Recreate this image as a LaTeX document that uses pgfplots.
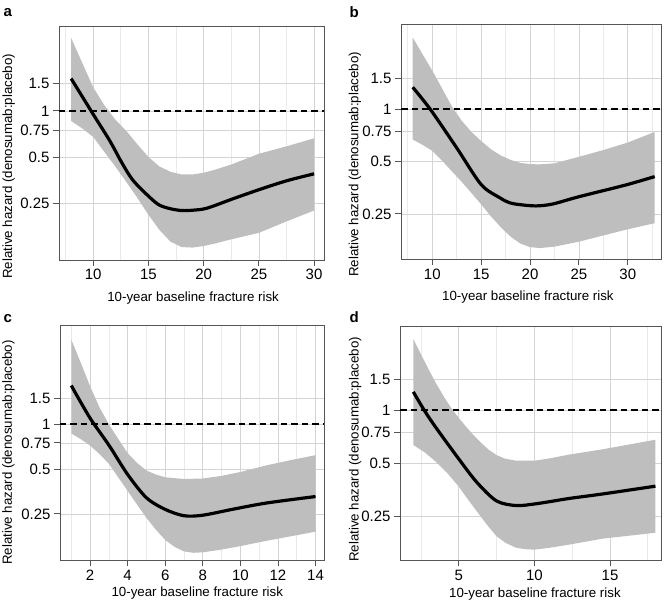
\documentclass[border=0pt]{standalone}
\usepackage{fontspec}
\setmainfont{Liberation Sans}
\usepackage{pgfplots}
\pgfplotsset{compat=1.18}

\definecolor{band}{RGB}{190,190,190}
\definecolor{gridmaj}{RGB}{212,212,212}
\definecolor{gridmin}{RGB}{234,234,234}
\definecolor{framecol}{RGB}{85,85,85}

\pgfplotsset{
  every axis/.append style={
    scale only axis, anchor=south west,
    xtick pos=left, ytick pos=left,
    tick align=outside, major tick length=6pt, minor tick length=0pt,
    axis line style={framecol, line width=0.9pt},
    tick style={framecol, line width=0.9pt},
    xmajorgrids, ymajorgrids, xminorgrids,
    major grid style={gridmaj, line width=0.7pt},
    minor grid style={gridmin, line width=0.7pt},
    /pgf/number format/assume math mode=true,
    tick label style={font=\fontsize{15}{17}\selectfont},
    label style={font=\fontsize{13.3}{16}\selectfont},
    xlabel={10-year baseline fracture risk},
    ylabel={Relative hazard (denosumab:placebo)},
  },
}

\begin{document}
\begin{tikzpicture}
\useasboundingbox (0,0) rectangle (672pt,602pt);

% ---- panel a
\begin{axis}[at={(59pt,342pt)}, width=265pt, height=234pt,
  ymode=log, ytick={0.25,0.5,0.75,1,1.5}, yticklabels={0.25,0.5,0.75,1,1.5}, minor ytick={},
  xmin=6.9, xmax=30.9, ymin=0.108, ymax=3.55,
  xtick={10,15,20,25,30}, minor xtick={7.5,12.5,17.5,22.5,27.5},
  xlabel style={at={(rel axis cs:0.506,0)}, anchor=center, yshift=-38pt},
  ylabel style={at={(rel axis cs:-0.19,0.40)}, anchor=center}]
  % band: upper limit left to right, then lower limit right to left
  \addplot[fill=band, draw=none] coordinates {(8,2.97) (9,2.05) (10,1.42) (11,1.09) (12,0.878) (13,0.741) (14,0.607) (15,0.502) (16,0.436) (17,0.403) (18,0.387) (19,0.387) (20,0.397) (21,0.415) (22.5,0.449) (25,0.527) (27.5,0.589) (30,0.664)
    (30,0.226) (27.5,0.192) (25,0.162) (22.5,0.147) (21,0.138) (20,0.133) (19,0.130) (18,0.131) (17,0.142) (16,0.169) (15,0.212) (14,0.273) (13,0.346) (12,0.436) (11,0.543) (10,0.677) (9,0.771) (8,0.86)} -- cycle;
  \addplot[black, line width=2.2pt, dash pattern=on 6.5pt off 4pt] coordinates {(6.9,1) (30.9,1)};
  \addplot[black, line width=3.2pt, smooth] coordinates {(8,1.62) (10,0.95) (11.5,0.64) (12.6,0.46) (13.6,0.355) (15.1,0.276) (16,0.245) (17,0.232) (18,0.226) (19,0.227) (20.3,0.234) (22.7,0.27) (25.1,0.31) (27.5,0.352) (30,0.391)};
\end{axis}

% ---- panel b
\begin{axis}[at={(401pt,342.7pt)}, width=260pt, height=235.3pt,
  ymode=log, ytick={0.25,0.5,0.75,1,1.5}, yticklabels={0.25,0.5,0.75,1,1.5}, minor ytick={},
  xmin=6.8, xmax=33.4, ymin=0.137, ymax=3.1,
  xtick={10,15,20,25,30}, minor xtick={7.5,12.5,17.5,22.5,27.5,32.5},
  xlabel style={at={(rel axis cs:0.488,0)}, anchor=center, yshift=-38pt},
  ylabel style={at={(rel axis cs:-0.177,0.403)}, anchor=center}]
  \addplot[fill=band, draw=none] coordinates {(8,2.59) (9,2.08) (10,1.67) (11,1.32) (12,1.04) (13,0.861) (14,0.741) (15,0.657) (16,0.589) (17,0.543) (18,0.512) (19,0.492) (20,0.484) (21,0.482) (22.5,0.489) (25,0.533) (27.5,0.583) (30,0.644) (32.75,0.741)
    (32.75,0.221) (30,0.204) (27.5,0.188) (25,0.173) (22.5,0.162) (21,0.159) (20,0.161) (19,0.169) (18,0.185) (17,0.210) (16,0.242) (15,0.284) (14,0.330) (13,0.383) (12,0.440) (11,0.507) (10,0.577) (9,0.625) (8,0.670)} -- cycle;
  \addplot[black, line width=2.2pt, dash pattern=on 6.5pt off 4pt] coordinates {(6.8,1) (33.4,1)};
  \addplot[black, line width=3.2pt, smooth] coordinates {(8,1.34) (9.8,1.0) (12.5,0.60) (15,0.369) (16.9,0.31) (17.9,0.29) (18.9,0.283) (20.6,0.278) (22.3,0.285) (25,0.314) (29.8,0.367) (32.75,0.41)};
\end{axis}

% ---- panel c
\begin{axis}[at={(60pt,41.7pt)}, width=264pt, height=235.3pt,
  ymode=log, ytick={0.25,0.5,0.75,1,1.5}, yticklabels={0.25,0.5,0.75,1,1.5}, minor ytick={},
  xmin=0.4, xmax=14.45, ymin=0.122, ymax=4.64,
  xtick={2,4,6,8,10,12,14}, minor xtick={1,3,5,7,9,11,13},
  xlabel style={at={(rel axis cs:0.52,0)}, anchor=center, yshift=-33pt},
  ylabel style={at={(rel axis cs:-0.195,0.458)}, anchor=center}]
  \addplot[fill=band, draw=none] coordinates {(1,3.7) (1.5,2.6) (2,1.8) (2.5,1.3) (3,1.0) (3.5,0.797) (4,0.64) (4.5,0.55) (5,0.489) (5.5,0.46) (6,0.44) (7,0.429) (8,0.432) (9,0.45) (10,0.478) (11.4,0.53) (12.7,0.575) (14,0.62)
    (14,0.19) (12.7,0.177) (11.4,0.165) (10,0.152) (9,0.144) (8,0.138) (7.5,0.137) (7,0.14) (6.5,0.15) (6,0.167) (5.5,0.196) (5,0.235) (4.5,0.289) (4,0.357) (3.5,0.44) (3,0.543) (2.5,0.631) (2,0.72) (1.5,0.795) (1,0.868)} -- cycle;
  \addplot[black, line width=2.2pt, dash pattern=on 6.5pt off 4pt] coordinates {(0.4,1) (14.45,1)};
  \addplot[black, line width=3.2pt, smooth] coordinates {(1,1.82) (2,1.10) (3,0.725) (4,0.46) (5,0.321) (6,0.268) (7,0.243) (8,0.245) (9.62,0.269) (11.4,0.296) (14,0.327)};
\end{axis}

% ---- panel d
\begin{axis}[at={(400pt,41.7pt)}, width=261pt, height=234.3pt,
  ymode=log, ytick={0.25,0.5,0.75,1,1.5}, yticklabels={0.25,0.5,0.75,1,1.5}, minor ytick={},
  xmin=1.12, xmax=18.37, ymin=0.141, ymax=3.0,
  xtick={5,10,15}, minor xtick={2.5,7.5,12.5,17.5},
  xlabel style={at={(rel axis cs:0.517,0)}, anchor=center, yshift=-33.7pt},
  ylabel style={at={(rel axis cs:-0.172,0.473)}, anchor=center}]
  \addplot[fill=band, draw=none] coordinates {(2,2.53) (2.5,2.08) (3,1.71) (3.5,1.42) (4,1.20) (4.5,1.03) (5,0.905) (5.5,0.803) (6,0.719) (6.5,0.651) (7,0.595) (7.5,0.557) (8,0.533) (8.8,0.517) (10,0.517) (11,0.533) (12.3,0.56) (14.5,0.60) (18,0.68)
    (18,0.202) (14.5,0.187) (12.3,0.173) (11,0.166) (10,0.162) (9.4,0.163) (8.8,0.166) (8.1,0.177) (7.5,0.193) (6.85,0.225) (6.2,0.267) (5.6,0.313) (5,0.369) (4.25,0.44) (3.48,0.511) (2.75,0.577) (2,0.635)} -- cycle;
  \addplot[black, line width=2.2pt, dash pattern=on 6.5pt off 4pt] coordinates {(1.12,1) (18.37,1)};
  \addplot[black, line width=3.2pt, smooth] coordinates {(2,1.27) (2.72,1.0) (3.48,0.80) (5,0.53) (6.2,0.39) (7.5,0.306) (8.8,0.288) (10,0.294) (11,0.303) (12.3,0.316) (14.5,0.335) (18,0.371)};
\end{axis}

% panel letters
\node[anchor=base west, inner sep=0pt, font=\fontsize{15}{18}\selectfont\bfseries] at (3.5pt,585pt) {a};
\node[anchor=base west, inner sep=0pt, font=\fontsize{15}{18}\selectfont\bfseries] at (349.5pt,584.5pt) {b};
\node[anchor=base west, inner sep=0pt, font=\fontsize{15}{18}\selectfont\bfseries] at (3.5pt,279.3pt) {c};
\node[anchor=base west, inner sep=0pt, font=\fontsize{15}{18}\selectfont\bfseries] at (349.5pt,279.3pt) {d};
\end{tikzpicture}
\end{document}
